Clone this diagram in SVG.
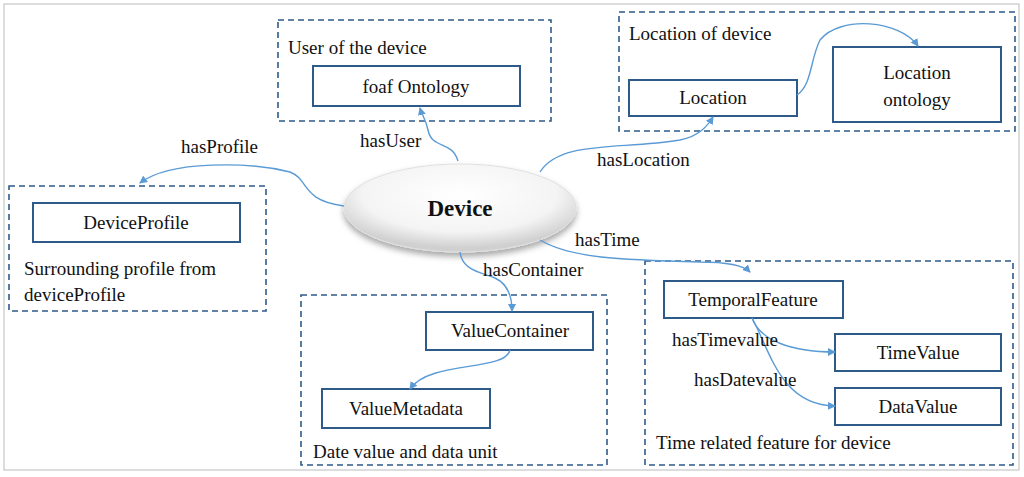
<svg xmlns="http://www.w3.org/2000/svg" width="1024" height="477" viewBox="0 0 1024 477">
<defs>
<marker id="a" markerWidth="8" markerHeight="8" refX="7" refY="4" orient="auto" markerUnits="userSpaceOnUse"><path d="M0,0 L8,4 L0,8 z" fill="#5B9BD5"/></marker>
<radialGradient id="g" cx="0.5" cy="0.35" r="0.6"><stop offset="0" stop-color="#ffffff"/><stop offset="0.7" stop-color="#f4f4f4"/><stop offset="1" stop-color="#d0d0d0"/></radialGradient>
<filter id="s" x="-20%" y="-30%" width="140%" height="170%"><feDropShadow dx="0" dy="4" stdDeviation="3" flood-color="#000" flood-opacity="0.35"/></filter>
</defs>
<style>
text{font-family:"Liberation Serif","Times New Roman",serif;font-size:19px;fill:#111}
.grp{fill:none;stroke:#2E5A8A;stroke-width:1.6;stroke-dasharray:6,4}
.box{fill:#fff;stroke:#2E5A8A;stroke-width:2}
.c{fill:none;stroke:#5B9BD5;stroke-width:1.4;marker-end:url(#a)}
.m{text-anchor:middle}
</style>
<rect x="4" y="4" width="1015" height="466" fill="#fff" stroke="#bbb"/>
<g id="user"><rect class="grp" x="278" y="20" width="273" height="101"/><text x="288" y="54">User of the device</text><rect class="box" x="313" y="66" width="207" height="40"/><text class="m" x="416" y="93">foaf Ontology</text></g>
<g id="location"><rect class="grp" x="619" y="12" width="396" height="119"/><text x="629" y="40">Location of device</text><rect class="box" x="629" y="80" width="168" height="36"/><text class="m" x="713" y="104">Location</text><rect class="box" x="833" y="47" width="168" height="75"/><text class="m" x="917" y="79">Location</text><text class="m" x="917" y="106">ontology</text></g>
<g id="profile"><rect class="grp" x="9" y="186" width="257" height="125"/><rect class="box" x="33" y="203" width="207" height="39"/><text class="m" x="136" y="229">DeviceProfile</text><text x="24" y="275">Surrounding profile from</text><text x="24" y="301">deviceProfile</text></g>
<g id="container"><rect class="grp" x="301" y="295" width="306" height="170"/><rect class="box" x="426" y="312" width="167" height="38"/><text class="m" x="510" y="337">ValueContainer</text><rect class="box" x="322" y="389" width="168" height="39"/><text class="m" x="406" y="415">ValueMetadata</text><text x="313" y="458">Date value and data unit</text></g>
<g id="time"><rect class="grp" x="645" y="261" width="368" height="204"/><rect class="box" x="664" y="281" width="179" height="37"/><text class="m" x="753" y="306">TemporalFeature</text><rect class="box" x="835" y="334" width="166" height="37"/><text class="m" x="918" y="359">TimeValue</text><rect class="box" x="835" y="388" width="166" height="37"/><text class="m" x="918" y="413">DataValue</text><text x="656" y="449">Time related feature for device</text></g>
<g id="device"><ellipse cx="460" cy="208" rx="116" ry="44" fill="url(#g)" stroke="#e0e0e0" filter="url(#s)"/><text class="m" x="460" y="216" style="font-size:23px;font-weight:bold">Device</text></g>
<g id="connectors">
<path class="c" d="M458,161 C452,140 432,150 428,130 C426,120 422,115 420,108"/>
<path class="c" d="M540,172 C560,140 620,150 680,140 C700,136 708,125 713,117"/>
<path class="c" d="M344,206 C300,200 310,180 290,172 C250,162 170,160 140,183"/>
<path class="c" d="M540,240 C570,258 620,260 700,262 C730,262 744,266 750,272"/>
<path class="c" d="M460,252 C462,270 480,272 495,278 C508,284 512,298 512,311"/>
<path class="c" d="M797,95 C812,85 810,60 820,40 C840,15 900,20 918,46"/>
<path class="c" d="M510,350 C505,372 430,360 410,389"/>
<path class="c" d="M752,318 C760,340 790,352 835,352"/>
<path class="c" d="M752,318 C770,350 780,405 835,406"/>
<text x="181" y="153">hasProfile</text>
<text x="360" y="147">hasUser</text>
<text x="597" y="166">hasLocation</text>
<text x="575" y="246">hasTime</text>
<text x="483" y="276">hasContainer</text>
<text x="672" y="346">hasTimevalue</text>
<text x="694" y="386">hasDatevalue</text>
</g>
</svg>
